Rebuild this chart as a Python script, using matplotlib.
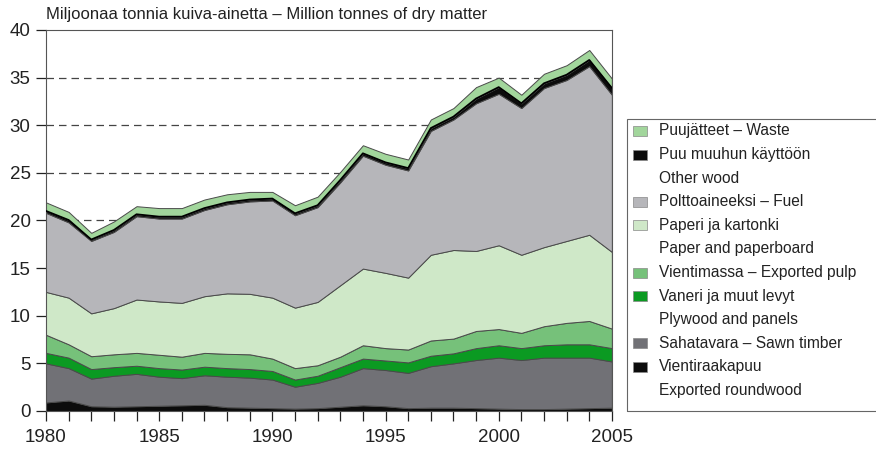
import matplotlib.pyplot as plt
from matplotlib.patches import Rectangle
import numpy as np

plt.rcParams['font.family'] = ['Liberation Sans Narrow', 'Liberation Sans', 'DejaVu Sans']

years = np.arange(1980, 2006)

# Million tonnes of dry matter, per use (bottom to top)
roundwood = [0.9, 1.1, 0.5, 0.45, 0.5, 0.55, 0.6, 0.65, 0.4, 0.35, 0.3, 0.25, 0.3,
             0.45, 0.6, 0.5, 0.3, 0.35, 0.35, 0.3, 0.25, 0.2, 0.2, 0.25, 0.3, 0.35]
sawn = [4.1, 3.4, 2.9, 3.25, 3.4, 3.05, 2.85, 3.1, 3.2, 3.15, 3.0, 2.3, 2.65,
        3.15, 3.9, 3.8, 3.7, 4.35, 4.65, 5.05, 5.35, 5.15, 5.4, 5.35, 5.3, 4.85]
plywood = [1.1, 1.1, 1.0, 0.9, 0.85, 0.9, 0.9, 0.9, 0.9, 0.9, 0.9, 0.75, 0.75,
           1.0, 1.0, 1.0, 1.1, 1.1, 1.05, 1.25, 1.3, 1.25, 1.3, 1.4, 1.4, 1.4]
pulp = [1.9, 1.4, 1.35, 1.35, 1.35, 1.4, 1.35, 1.45, 1.5, 1.55, 1.3, 1.2, 1.1,
        1.1, 1.4, 1.3, 1.35, 1.6, 1.55, 1.8, 1.7, 1.6, 2.0, 2.25, 2.45, 2.05]
paper = [4.5, 4.9, 4.5, 4.85, 5.6, 5.6, 5.65, 5.95, 6.35, 6.35, 6.4, 6.35, 6.65,
         7.5, 8.05, 7.9, 7.55, 9.0, 9.3, 8.4, 8.8, 8.2, 8.3, 8.6, 9.05, 8.05]
fuel = [8.3, 7.9, 7.6, 8.0, 8.75, 8.7, 8.85, 9.05, 9.35, 9.7, 10.2, 9.7, 9.95,
        10.8, 11.85, 11.35, 11.25, 13.0, 13.7, 15.5, 15.9, 15.4, 16.7, 16.9, 17.7, 16.5]
other = [0.2, 0.25, 0.15, 0.2, 0.2, 0.2, 0.2, 0.2, 0.2, 0.2, 0.2, 0.2, 0.2,
         0.25, 0.25, 0.25, 0.25, 0.3, 0.3, 0.5, 0.7, 0.5, 0.5, 0.55, 0.65, 0.7]
waste = [0.9, 0.85, 0.7, 0.9, 0.85, 0.9, 0.9, 0.9, 0.85, 0.8, 0.7, 0.85, 0.9,
         0.85, 0.85, 0.9, 0.9, 0.9, 0.9, 1.2, 1.0, 0.9, 1.0, 1.0, 1.05, 1.0]

series = [roundwood, sawn, plywood, pulp, paper, fuel, other, waste]
colors = ['#0c0c0c', '#717176', '#0b9a22', '#76c17a', '#cfe8c8', '#b6b6ba', '#0c0c0c', '#a2d69c']

legend_items = [
    ('Puujätteet – Waste', '#a2d69c'),
    ('Puu muuhun käyttöön\nOther wood', '#0c0c0c'),
    ('Polttoaineeksi – Fuel', '#b6b6ba'),
    ('Paperi ja kartonki\nPaper and paperboard', '#cfe8c8'),
    ('Vientimassa – Exported pulp', '#76c17a'),
    ('Vaneri ja muut levyt\nPlywood and panels', '#0b9a22'),
    ('Sahatavara – Sawn timber', '#717176'),
    ('Vientiraakapuu\nExported roundwood', '#0c0c0c'),
]

fig = plt.figure(figsize=(8.76, 4.5), dpi=100)
ax = fig.add_axes([0.0525, 0.0867, 0.646, 0.8467])

ax.stackplot(years, *series, colors=colors, edgecolor='#4a4a4a', linewidth=0.7, zorder=2)

# black line on top of fuel / other wood band
top_other = np.cumsum(np.array(series[:7]), axis=0)[-1]
ax.plot(years, top_other, color='black', lw=1.3, zorder=3)

ax.set_xlim(1980, 2005)
ax.set_ylim(0, 40)
ax.set_xticks(years)
ax.set_xticklabels([str(y) if y % 5 == 0 else '' for y in years])
ax.set_yticks(range(0, 45, 5))
ax.tick_params(axis='both', labelsize=13.5, colors='#222222', length=7, width=0.9)
ax.tick_params(axis='x', pad=6)
ax.tick_params(axis='y', pad=4)

for y in range(5, 40, 5):
    ax.axhline(y, color='#444444', lw=0.9, ls=(0, (6, 4)), zorder=1)

for side in ['top', 'right', 'left', 'bottom']:
    ax.spines[side].set_color('#555555')
    ax.spines[side].set_linewidth(0.8)

fig.text(0.0525, 0.967, 'Miljoonaa tonnia kuiva-ainetta – Million tonnes of dry matter',
         fontsize=12, color='#222222', va='center', ha='left')

# legend drawn by hand (first line of each label next to the swatch)
box_l, box_t, box_b = 627 / 876, 1 - 119 / 450, 1 - 411 / 450
fig.patches.append(Rectangle((box_l, box_b), 1.0, box_t - box_b, transform=fig.transFigure,
                             fill=False, edgecolor='#666666', lw=0.8))
line_h = 23.6 / 450
y = 1 - 131 / 450
for label, col in legend_items:
    fig.patches.append(Rectangle((633 / 876, y - 5 / 450), 14 / 876, 10 / 450,
                                 transform=fig.transFigure, facecolor=col,
                                 edgecolor='#888888', lw=0.5))
    lines = label.split('\n')
    for i, ln in enumerate(lines):
        fig.text(659 / 876, y - i * line_h, ln, fontsize=11.2, color='#222222',
                 va='center', ha='left')
    y -= line_h * len(lines)

fig.savefig('out.png', dpi=100)
